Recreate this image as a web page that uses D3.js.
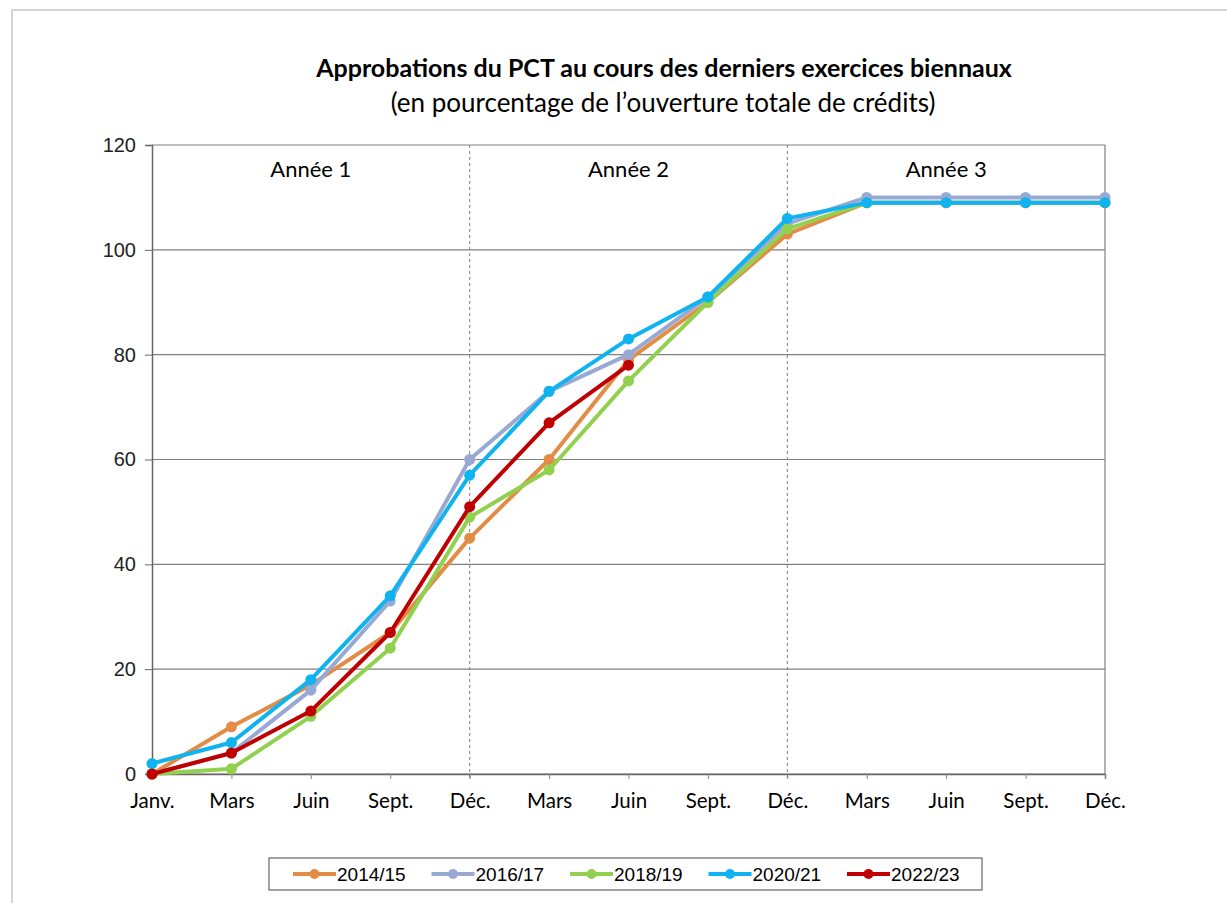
<!DOCTYPE html>
<html><head><meta charset="utf-8">
<script src="https://cdn.jsdelivr.net/npm/d3@7"></script>
<style>body{margin:0;background:#fff;}svg{display:block;}</style>
</head><body>
<svg id="c" width="1227" height="903"></svg>
<script>
const categories = ["Janv.","Mars","Juin","Sept.","Déc.","Mars","Juin","Sept.","Déc.","Mars","Juin","Sept.","Déc."];
const yTicks = [0,20,40,60,80,100,120];
const yearLabels = ["Année 1","Année 2","Année 3"];
const seriesNames = ["2014/15","2016/17","2018/19","2020/21","2022/23"];
const s2014 = [0,9,17,27,45,60,79,90,103,109,109,109,109];
const s2016 = [0,4,16,33,60,73,80,91,105,110,110,110,110];
const s2018 = [0,1,11,24,49,58,75,90,104,109,109,109,109];
const s2020 = [2,6,18,34,57,73,83,91,106,109,109,109,109];
const s2022 = [0,4,12,27,51,67,78];
const colors = ["#E38C45","#98A9D4","#92D050","#0FB3EF","#C00000"];
const seriesValues = [s2014,s2016,s2018,s2020,s2022];

const svg = d3.select("#c");
// outer frame
svg.append("rect").attr("x",12).attr("y",10).attr("width",1240).attr("height",920)
  .attr("fill","none").attr("stroke","#c8c8c8").attr("stroke-width",1.5);

const L=152,R=1105,T=145,B=774;
const x = d3.scalePoint().domain(d3.range(categories.length)).range([L,R]);
const y = d3.scaleLinear().domain([0,120]).range([B,T]);

// title
svg.append("text").attr("x",664).attr("y",77).attr("text-anchor","middle")
  .attr("font-family","Lato, 'Open Sans', sans-serif").attr("font-weight","bold").attr("font-size",25)
  .attr("fill","#000").text("Approbations du PCT au cours des derniers exercices biennaux");
svg.append("text").attr("x",663).attr("y",112).attr("text-anchor","middle")
  .attr("font-family","Lato, 'Open Sans', sans-serif").attr("font-size",26)
  .attr("fill","#000").text("(en pourcentage de l’ouverture totale de crédits)");

// gridlines
svg.append("g").selectAll("line").data(yTicks).join("line")
  .attr("x1",L).attr("x2",R).attr("y1",d=>y(d)).attr("y2",d=>y(d))
  .attr("stroke","#808080").attr("stroke-width",1.2);
// right border
svg.append("line").attr("x1",R).attr("x2",R).attr("y1",T).attr("y2",B).attr("stroke","#808080").attr("stroke-width",1.2);
// dashed year separators
[4,8].forEach(i=>{
  svg.append("line").attr("x1",x(i)).attr("x2",x(i)).attr("y1",T).attr("y2",B+6)
    .attr("stroke","#808080").attr("stroke-width",1).attr("stroke-dasharray","3,3");
});

// y axis
const yAxis = d3.axisLeft(y).tickValues(yTicks).tickSize(7).tickPadding(9);
const gy = svg.append("g").attr("transform",`translate(${L},0)`).call(yAxis);
gy.select(".domain").attr("stroke","#666").attr("stroke-width",1.5);
gy.selectAll(".tick line").attr("stroke","#666");
gy.selectAll("text").attr("font-family","'Liberation Sans', Arial, sans-serif").attr("font-size",20).attr("fill","#222");

// x axis
const xAxis = d3.axisBottom(x).tickFormat(i=>categories[i]).tickSize(5).tickPadding(14);
const gx = svg.append("g").attr("transform",`translate(0,${B})`).call(xAxis);
gx.select(".domain").attr("stroke","#666").attr("stroke-width",1.5);
gx.selectAll(".tick line").attr("stroke","#888");
gx.selectAll("text").attr("font-family","Lato, 'Open Sans', sans-serif").attr("font-size",20.5).attr("fill","#000");

// year labels
const yearCenters = [ (x(0)+x(4))/2, (x(4)+x(8))/2, (x(8)+x(12))/2 ];
svg.append("g").selectAll("text").data(yearLabels).join("text")
  .attr("x",(d,i)=>yearCenters[i]).attr("y",177).attr("text-anchor","middle")
  .attr("font-family","Lato, 'Open Sans', sans-serif").attr("font-size",22).attr("fill","#000")
  .text(d=>d);

// lines
const line = d3.line().x((d,i)=>x(i)).y(d=>y(d));
seriesValues.forEach((vals,k)=>{
  const g = svg.append("g");
  g.append("path").datum(vals).attr("d",line).attr("fill","none")
    .attr("stroke",colors[k]).attr("stroke-width",4).attr("stroke-linejoin","round");
  g.selectAll("circle").data(vals).join("circle")
    .attr("cx",(d,i)=>x(i)).attr("cy",d=>y(d)).attr("r",5.5).attr("fill",colors[k]);
});

// legend
const lg = svg.append("g");
lg.append("rect").attr("x",269).attr("y",858).attr("width",713).attr("height",32)
  .attr("fill","#fff").attr("stroke","#666").attr("stroke-width",1.2);
seriesNames.forEach((n,k)=>{
  const x0 = 293 + k*138.5;
  lg.append("line").attr("x1",x0).attr("x2",x0+43).attr("y1",874).attr("y2",874)
    .attr("stroke",colors[k]).attr("stroke-width",4);
  lg.append("circle").attr("cx",x0+21.5).attr("cy",874).attr("r",5).attr("fill",colors[k]);
  lg.append("text").attr("x",x0+44).attr("y",881).attr("font-family","'Liberation Sans', Arial, sans-serif")
    .attr("font-size",19).attr("fill","#000").text(n);
});
</script>
</body></html>
